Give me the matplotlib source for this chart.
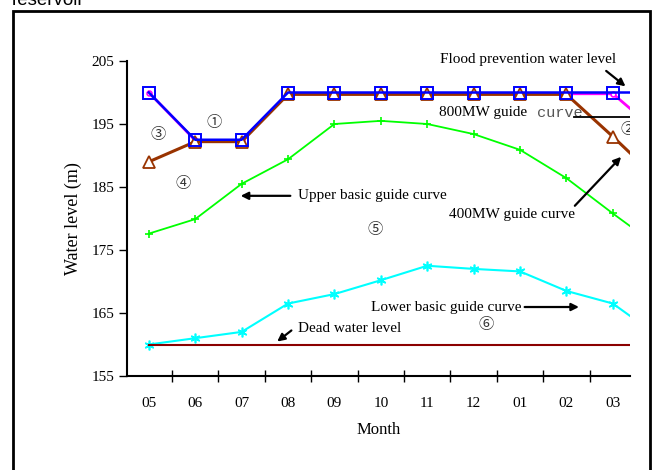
import numpy as np
import matplotlib
matplotlib.use('Agg')
import matplotlib.pyplot as plt
from matplotlib.patches import Rectangle

# month order of the operating year, last point (04) falls outside the plot
months = ['05', '06', '07', '08', '09', '10', '11', '12', '01', '02', '03', '04']
flood = [200, 192.5, 192.5, 200, 200, 200, 200, 200, 200, 200, 200, 200]
guide_800 = [200, 192.4, 192.4, 199.8, 199.8, 199.8, 199.8, 199.8, 199.8, 199.8, 199.8, 193.5]
guide_400 = [189, 192.2, 192.2, 199.7, 199.7, 199.7, 199.7, 199.7, 199.7, 199.7, 193, 186]
upper = [177.6, 179.9, 185.5, 189.4, 195.0, 195.5, 195.0, 193.4, 190.9, 186.4, 180.8, 175.4]
lower = [160.0, 161.0, 162.0, 166.5, 168.0, 170.2, 172.5, 172.0, 171.6, 168.5, 166.5, 161.2]
dead = [160] * 12
yticks = [155, 165, 175, 185, 195, 205]

serif = 'Liberation Serif'
x = np.arange(len(months))

fig = plt.figure(figsize=(6.68, 4.70), dpi=100)
ax = fig.add_axes([127/668, 1-376/470, (630-127)/668, (376-61)/470])

ax.plot(x, upper, color='#00ff00', lw=1.3, marker='+', ms=6, mew=1.2, zorder=2)
ax.plot(x, lower, color='#00ffff', lw=1.5, marker=(6, 2, 0), ms=7, mew=1.2, zorder=2)
ax.plot(x, dead, color='#8b0000', lw=1.5, zorder=2)
ax.plot(x, guide_800, color='#ff00ff', lw=2, marker='o', ms=3.5, mfc='white', mew=1.2, zorder=3)
ax.plot(x, guide_400, color='#993300', lw=2.2, marker='^', ms=8, mfc='white', mew=1.3, zorder=4)
ax.plot(x, flood, color='#0000ff', lw=1.8, marker='s', ms=8, mfc='none', mew=1.4, zorder=5)

ax.set_xlim(-0.47, 10.37)
ax.set_ylim(155, 205)
ax.set_yticks(yticks)
ax.set_xticks(x[:11])
ax.set_xticklabels(months[:11])
ax.set_xticks(np.arange(0.5, 10, 1), minor=True)
ax.tick_params(axis='x', which='major', length=0, pad=15)
ax.tick_params(axis='x', which='minor', direction='inout', length=8, width=1)
ax.tick_params(axis='y', direction='out', length=6, width=1, pad=3)
for lab in ax.get_xticklabels() + ax.get_yticklabels():
    lab.set_fontfamily(serif)
    lab.set_fontsize(11)
for s in ['top', 'right']:
    ax.spines[s].set_visible(False)
for s in ['left', 'bottom']:
    ax.spines[s].set_linewidth(1.5)

ax.set_xlabel('Month', fontfamily=serif, fontsize=12, labelpad=9)
ax.set_ylabel('Water level (m)', fontfamily=serif, fontsize=13, labelpad=7)

arrow = dict(arrowstyle='-|>', color='black', lw=1.6, mutation_scale=11)
tk = dict(fontfamily=serif, fontsize=11, va='center')

ax.text(6.27, 205.2, 'Flood prevention water level', ha='left', **tk)
ax.annotate('', xy=(10.32, 200.7), xytext=(9.81, 203.7), arrowprops=arrow)

ax.text(8.15, 196.8, '800MW guide', ha='right', **tk)
ax.text(8.36, 196.8, 'curve', ha='left', va='center', fontfamily='Liberation Mono',
        fontsize=11, color='#555555')
ax.plot([9.16, 10.6], [196.1, 196.1], color='black', lw=1.3, zorder=6)

ax.text(3.21, 183.6, 'Upper basic guide curve', ha='left', **tk)
ax.annotate('', xy=(1.92, 183.6), xytext=(3.11, 183.6), arrowprops=arrow)

ax.text(6.47, 180.6, '400MW guide curve', ha='left', **tk)
ax.annotate('', xy=(10.22, 190.1), xytext=(9.14, 181.7), arrowprops=arrow)

ax.text(8.04, 165.95, 'Lower basic guide curve', ha='right', **tk)
ax.annotate('', xy=(9.33, 165.95), xytext=(8.04, 165.95), arrowprops=arrow)

ax.text(3.21, 162.5, 'Dead water level', ha='left', **tk)
ax.annotate('', xy=(2.72, 160.2), xytext=(3.12, 162.5), arrowprops=arrow)

cj = dict(fontfamily=['Noto Sans CJK JP', 'DejaVu Sans'], fontsize=11, color='#333333',
          ha='center', va='center')
ax.text(1.4, 195.2, '①', **cj)
ax.text(0.19, 193.4, '③', **cj)
ax.text(0.73, 185.5, '④', **cj)
ax.text(4.87, 178.2, '⑤', **cj)
ax.text(7.26, 163.1, '⑥', **cj)
ax.text(10.32, 194.05, '②', clip_on=True, **cj)

# outer frame and clipped caption above it
fig.patches.append(Rectangle((12.7/668, -0.1), (650-12.7)/668, 1.1 - 11/470,
                             transform=fig.transFigure, fill=False, lw=2, color='black'))
fig.text(12/668, 1-5/470, 'reservoir', fontfamily='Liberation Sans', fontsize=13.5,
         va='baseline', ha='left')

fig.savefig('out.png', dpi=100)
